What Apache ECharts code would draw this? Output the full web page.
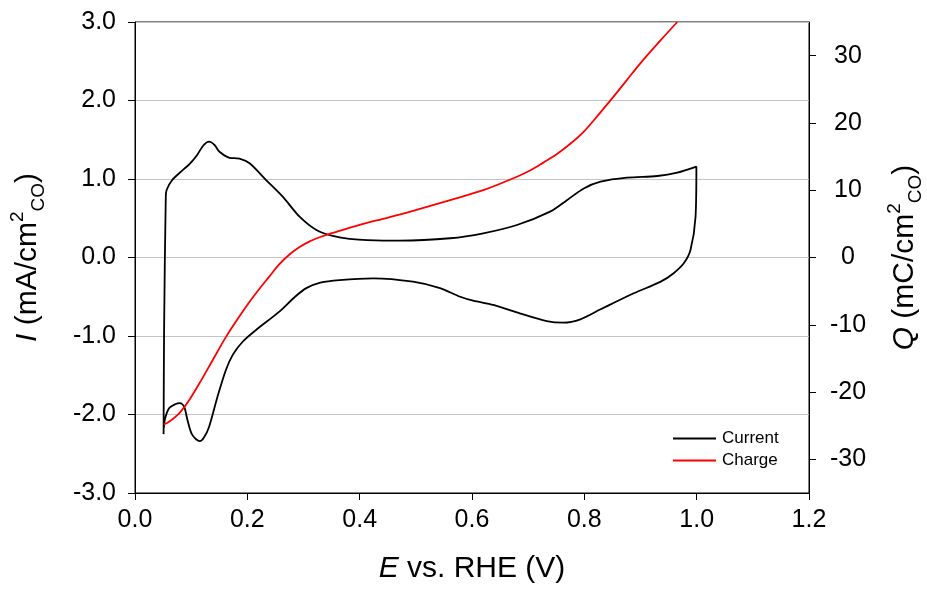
<!DOCTYPE html>
<html>
<head>
<meta charset="utf-8">
<script src="https://cdn.jsdelivr.net/npm/echarts@6/dist/echarts.min.js"></script>
<style>html,body{margin:0;padding:0;background:#fff}#c{width:927px;height:594px}</style>
</head>
<body>
<div id="c"></div>
<script>
// Current (CV loop): potential E (V) and current I (mA/cm2)
var currentE = [0.0509,0.0518,0.0548,0.0563,0.0666,0.0845,0.097,0.110,0.122,0.132,0.142,0.150,0.168,0.186,0.204,0.233,0.263,0.293,0.323,0.352,0.382,0.442,0.471,0.561,0.620,0.680,0.739,0.769,0.799,0.829,0.876,0.930,0.9655,0.9995,
  0.998,0.989,0.977,0.959,0.936,0.888,0.829,0.793,0.763,0.733,0.680,0.638,0.602,0.579,0.543,0.495,0.424,0.364,0.330,0.305,0.285,0.257,0.216,0.192,0.174,0.162,0.147,0.132,0.123,0.1155,0.102,0.0934,0.0875,0.080,0.0714,0.0607,0.0536,0.0513];
var currentI = [-2.25,-0.92,0.77,0.86,0.99,1.11,1.19,1.30,1.43,1.475,1.43,1.35,1.27,1.26,1.20,0.99,0.775,0.52,0.35,0.274,0.236,0.214,0.214,0.245,0.308,0.414,0.584,0.73,0.88,0.966,1.017,1.038,1.08,1.157,
  0.52,0.096,-0.074,-0.2,-0.308,-0.456,-0.66,-0.787,-0.83,-0.81,-0.70,-0.605,-0.55,-0.50,-0.39,-0.308,-0.265,-0.287,-0.32,-0.39,-0.50,-0.69,-0.92,-1.07,-1.24,-1.43,-1.77,-2.155,-2.29,-2.34,-2.26,-2.07,-1.90,-1.855,-1.87,-1.92,-2.05,-2.17];
// Charge: potential E (V) and charge Q (mC/cm2)
var chargeE = [0.0513,0.0607,0.0786,0.0964,0.114,0.138,0.162,0.183,0.204,0.222,0.239,0.257,0.275,0.293,0.311,0.330,0.346,0.370,0.394,0.430,0.471,0.515,0.561,0.620,0.680,0.705,0.727,0.750,0.775,0.800,0.825,0.852,0.876,0.900,0.936,0.9655];
var chargeQ = [-24.8,-24.4,-23.15,-21.2,-18.8,-15.3,-11.8,-9.1,-6.57,-4.6,-2.85,-1.0,0.45,1.55,2.4,3.05,3.5,4.1,4.7,5.5,6.36,7.4,8.54,10.0,12.0,13.0,14.1,15.3,16.9,18.8,21.2,23.9,26.4,28.9,32.3,35.0];
var rightTicks = [-30,-20,-10,0,10,20,30];
var seriesNames = ['Current','Charge'];

function pairs(a,b){var r=[];for(var i=0;i<a.length;i++)r.push([a[i],b[i]]);return r;}

var FONT = "'Liberation Sans', Arial, Helvetica, sans-serif";
var chart = echarts.init(document.getElementById('c'), null, {renderer:'canvas'});
var titleRich = {
  i:{fontStyle:'italic',fontSize:30,fontFamily:FONT,color:'#000'},
  sup:{fontSize:19,fontFamily:FONT,color:'#000',verticalAlign:'top',lineHeight:40},
  sub:{fontSize:19,fontFamily:FONT,color:'#000',verticalAlign:'bottom',lineHeight:40}
};
chart.setOption({
  animation:false,
  backgroundColor:'#fff',
  grid:{left:135,right:118,top:22,bottom:101,show:true,borderColor:'#000',borderWidth:1,outerBoundsMode:'none',containLabel:false},
  legend:{
    orient:'vertical', left:668, top:424, itemWidth:43, itemHeight:2, itemGap:3,
    icon:'rect',
    textStyle:{fontFamily:FONT,fontSize:17,color:'#000',padding:[0,0,0,1],lineHeight:19},
    data:seriesNames
  },
  xAxis:{
    type:'value', min:0, max:1.2, interval:0.2,
    axisLine:{show:true,onZero:false,lineStyle:{color:'#000',width:1}},
    axisTick:{show:true,inside:false,length:7,lineStyle:{color:'#000'}},
    axisLabel:{fontFamily:FONT,fontSize:25,color:'#000',margin:15,formatter:function(v){return v.toFixed(1);}},
    splitLine:{show:false},
    name:'{i|E} vs. RHE (V)', nameLocation:'middle', nameGap:61,
    nameTextStyle:{fontFamily:FONT,fontSize:30,color:'#000',rich:titleRich}
  },
  yAxis:[{
    type:'value', min:-3, max:3, interval:1, position:'left',
    axisLine:{show:true,onZero:false,lineStyle:{color:'#000',width:1}},
    axisTick:{show:true,inside:false,length:7,lineStyle:{color:'#000'}},
    axisLabel:{fontFamily:FONT,fontSize:25,color:'#000',margin:19,formatter:function(v){return v.toFixed(1);}},
    splitLine:{show:true,lineStyle:{color:'#c4c4c4',width:1}},
    name:'{i|I} (mA/cm{sup|2}{sub|CO})', nameLocation:'middle', nameRotate:90, nameGap:87,
    nameTextStyle:{fontFamily:FONT,fontSize:30,color:'#000',lineHeight:40,rich:titleRich}
  },{
    type:'value', min:-35, max:35, position:'right',
    axisLine:{show:true,onZero:false,lineStyle:{color:'#000',width:1}},
    axisTick:{show:true,inside:false,length:7,lineStyle:{color:'#000'},customValues:rightTicks},
    axisLabel:{fontFamily:FONT,fontSize:25,color:'#000',margin:39,align:'center',customValues:rightTicks,formatter:function(v){return String(v);}},
    splitLine:{show:false},
    name:'{i|Q} (mC/cm{sup|2}{sub|CO})', nameLocation:'middle', nameRotate:90, nameGap:76,
    nameTextStyle:{fontFamily:FONT,fontSize:30,color:'#000',lineHeight:40,rich:titleRich}
  }],
  series:[{
    name:seriesNames[0], type:'line', xAxisIndex:0, yAxisIndex:0,
    data:pairs(currentE,currentI), showSymbol:false, smooth:0.3, clip:true,
    lineStyle:{color:'#000',width:1.8}, itemStyle:{color:'#000'}
  },{
    name:seriesNames[1], type:'line', xAxisIndex:0, yAxisIndex:1,
    data:pairs(chargeE,chargeQ), showSymbol:false, smooth:0.3, clip:true,
    lineStyle:{color:'#ff0000',width:1.8}, itemStyle:{color:'#ff0000'}
  }]
});
</script>
</body>
</html>
